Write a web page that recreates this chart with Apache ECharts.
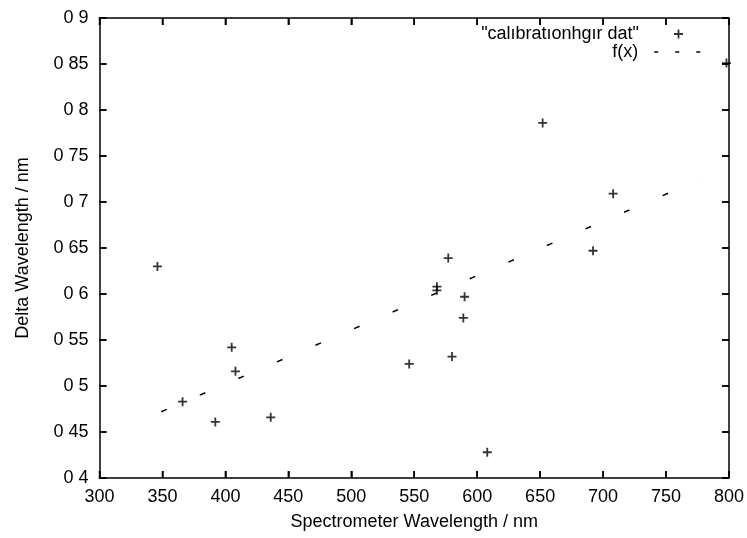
<!DOCTYPE html>
<html>
<head>
<meta charset="utf-8">
<script src="https://cdn.jsdelivr.net/npm/echarts@6/dist/echarts.min.js"></script>
<style>
  html, body { margin: 0; padding: 0; background: #fff; }
  #chart { width: 747px; height: 538px; background: #fff; }
</style>
</head>
<body>
<div id="chart"></div>
<script>
// Calibration data
const calX = [346, 366, 392, 405, 408, 436, 546, 568, 568, 577, 580, 589, 590, 608, 652, 692, 708, 798];
const calY = [0.630, 0.483, 0.461, 0.542, 0.516, 0.466, 0.524, 0.608, 0.604, 0.639, 0.532, 0.574, 0.597, 0.428, 0.786, 0.647, 0.709, 0.851];
// Fit line f(x) end points
const fitX = [349, 778];
const fitY = [0.472, 0.725];
// Tick values
const xTickVals = [300, 350, 400, 450, 500, 550, 600, 650, 700, 750, 800];
const yTickVals = [0.4, 0.45, 0.5, 0.55, 0.6, 0.65, 0.7, 0.75, 0.8, 0.85, 0.9];
const seriesNames = ['"calıbratıonhgır dat"', 'f(x)'];
const xTitle = 'Spectrometer Wavelength / nm';
const yTitle = 'Delta Wavelength / nm';

const xMin = xTickVals[0], xMax = xTickVals[xTickVals.length - 1], xStep = 50;
const yMin = yTickVals[0], yMax = yTickVals[yTickVals.length - 1], yStep = 0.05;

const FONT = '"Liberation Sans", Arial, Helvetica, sans-serif';
const PLUS = 'path://M4,0H6V4H10V6H6V10H4V6H0V4H4Z';
const TICK_LEN = 7;
const SOLID = [10, 0];

const chart = echarts.init(document.getElementById('chart'));

function axisBase() {
  return {
    axisLine: { show: true, onZero: false, lineStyle: { color: '#000', width: 1.5 } },
    axisTick: { show: true, inside: true, length: TICK_LEN, lineStyle: { color: '#000', width: 1.5, type: SOLID } },
    splitLine: { show: false }
  };
}

const yFmt = v => String(Math.round(v * 100) / 100).replace('.', ' ');
const tickStyle = { stroke: '#000', lineWidth: 1.5, lineDash: SOLID, lineDashOffset: 0 };

const option = {
  animation: false,
  grid: { left: 99.5, right: 18, top: 18, bottom: 60 },
  xAxis: [
    Object.assign(axisBase(), {
      type: 'value', position: 'bottom', min: xMin, max: xMax, interval: xStep,
      axisLabel: { color: '#000', fontFamily: FONT, fontSize: 18, margin: 10 },
      name: xTitle, nameLocation: 'middle', nameGap: 35,
      nameTextStyle: { color: '#000', fontFamily: FONT, fontSize: 18 }
    }),
    Object.assign(axisBase(), {
      type: 'value', position: 'top', min: xMin, max: xMax, interval: xStep,
      axisLabel: { show: false }
    })
  ],
  yAxis: [
    Object.assign(axisBase(), {
      type: 'value', position: 'left', min: yMin, max: yMax, interval: yStep,
      axisLabel: { color: '#000', fontFamily: FONT, fontSize: 18, margin: 11, formatter: yFmt },
      name: yTitle, nameLocation: 'middle', nameGap: 67, nameRotate: 90,
      nameTextStyle: { color: '#000', fontFamily: FONT, fontSize: 18 }
    }),
    Object.assign(axisBase(), {
      type: 'value', position: 'right', min: yMin, max: yMax, interval: yStep,
      axisLabel: { show: false }
    })
  ],
  legend: [
    {
      data: [{ name: seriesNames[0] }],
      orient: 'vertical', align: 'right', right: 64, top: 25, padding: 0,
      itemWidth: 47, itemHeight: 9,
      textStyle: { color: '#000', fontFamily: FONT, fontSize: 18, lineHeight: 18, padding: [0, 11, 0, 0] }
    },
    {
      data: [{ name: seriesNames[1], lineStyle: { type: [4, 17], width: 1.5, color: '#000' },
               itemStyle: { opacity: 0 } }],
      orient: 'vertical', align: 'right', right: 45, top: 43, padding: 0,
      itemWidth: 47, itemHeight: 9,
      textStyle: { color: '#000', fontFamily: FONT, fontSize: 18, lineHeight: 18, padding: [0, 11, 0, 0] }
    }
  ],
  series: [
    {
      name: seriesNames[0], type: 'scatter', xAxisIndex: 0, yAxisIndex: 0,
      symbol: PLUS, symbolSize: 9, symbolKeepAspect: true,
      itemStyle: { color: '#000' },
      data: calX.map((x, i) => [x, calY[i]])
    },
    {
      name: seriesNames[1], type: 'line', xAxisIndex: 0, yAxisIndex: 0,
      symbol: 'none', showSymbol: false,
      lineStyle: { color: '#000', width: 1.5, type: [6, 36] },
      itemStyle: { color: '#000' },
      data: fitX.map((x, i) => [x, fitY[i]])
    },
    {
      // inward tick marks on bottom and top edges, placed through the axis scales
      type: 'custom', xAxisIndex: 0, yAxisIndex: 0, silent: true, clip: false, z: 5,
      data: xTickVals.map(v => [v, yMin]),
      renderItem: function (params, api) {
        const v = api.value(0);
        const pb = api.coord([v, yMin]);
        const pt = api.coord([v, yMax]);
        return {
          type: 'group',
          children: [
            { type: 'line', shape: { x1: pb[0], y1: pb[1], x2: pb[0], y2: pb[1] - TICK_LEN }, style: tickStyle },
            { type: 'line', shape: { x1: pt[0], y1: pt[1], x2: pt[0], y2: pt[1] + TICK_LEN }, style: tickStyle }
          ]
        };
      }
    },
    {
      // inward tick marks on left and right edges
      type: 'custom', xAxisIndex: 0, yAxisIndex: 0, silent: true, clip: false, z: 5,
      data: yTickVals.map(v => [xMin, v]),
      renderItem: function (params, api) {
        const v = api.value(1);
        const pl = api.coord([xMin, v]);
        const pr = api.coord([xMax, v]);
        return {
          type: 'group',
          children: [
            { type: 'line', shape: { x1: pl[0], y1: pl[1], x2: pl[0] + TICK_LEN, y2: pl[1] }, style: tickStyle },
            { type: 'line', shape: { x1: pr[0], y1: pr[1], x2: pr[0] - TICK_LEN, y2: pr[1] }, style: tickStyle }
          ]
        };
      }
    }
  ]
};
chart.setOption(option);
</script>
</body>
</html>
